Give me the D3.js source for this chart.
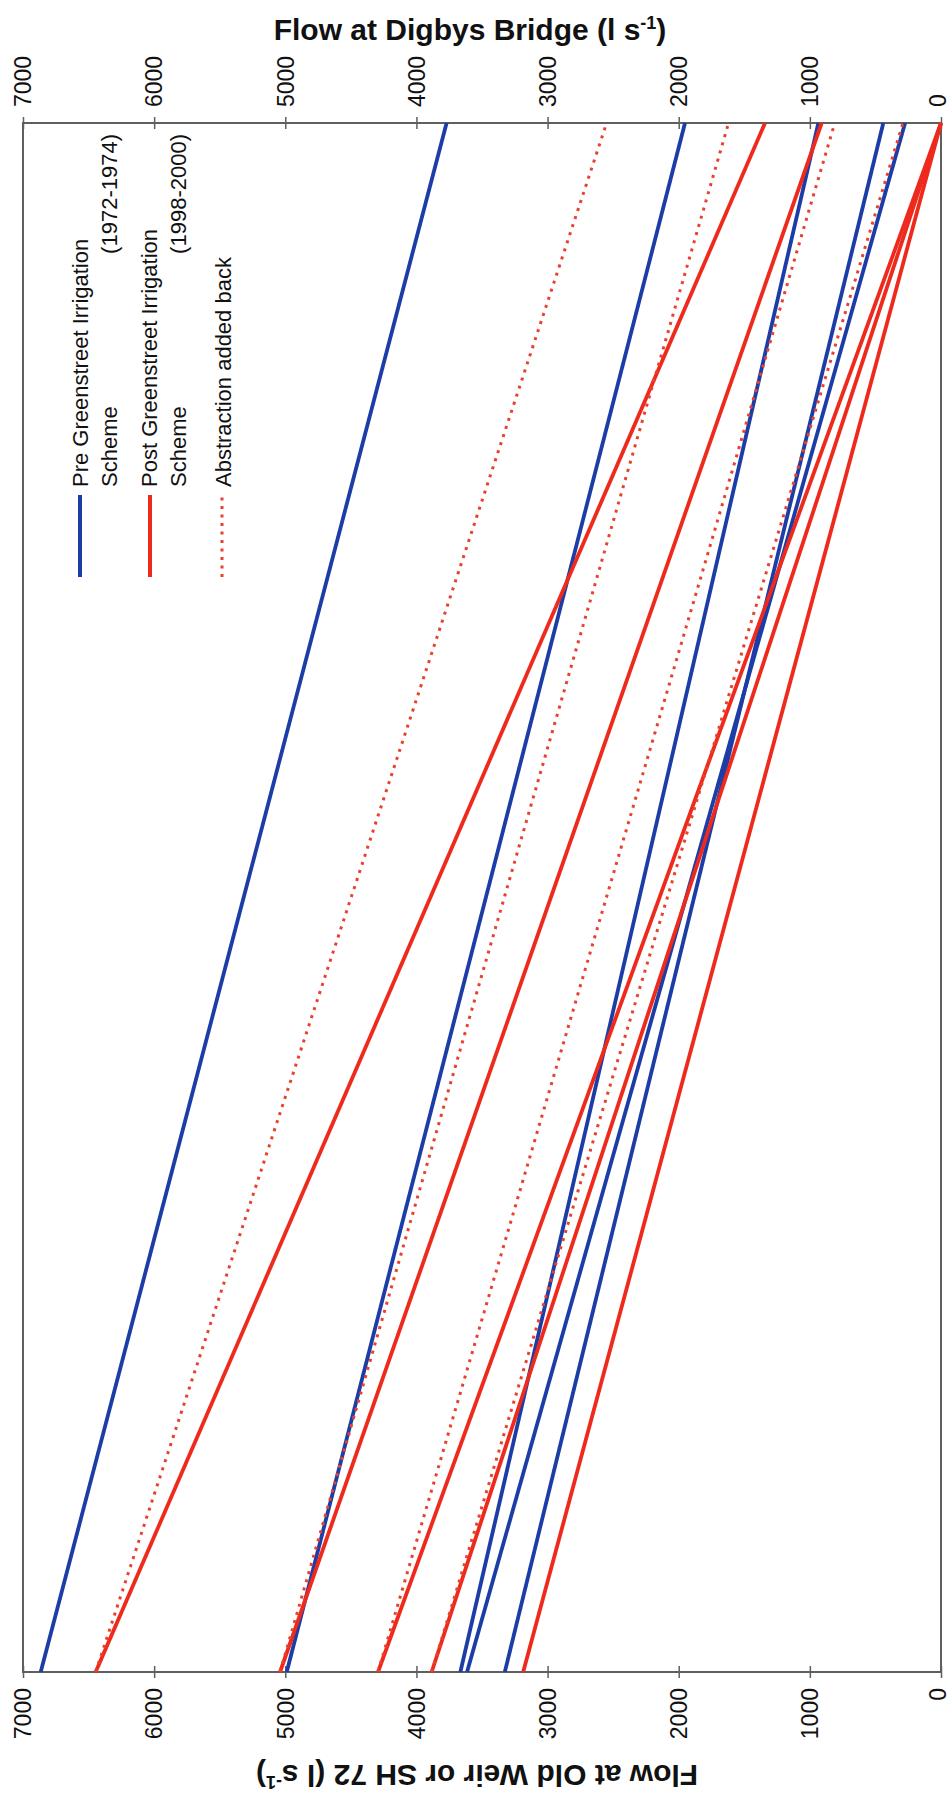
<!DOCTYPE html>
<html><head><meta charset="utf-8">
<script src="https://cdn.jsdelivr.net/npm/d3@7"></script>
<style>html,body{margin:0;padding:0;background:#fff;} svg{display:block;}</style>
</head><body>
<script>
// ---- data (flows in l/s) ----
const tickValues = [0, 1000, 2000, 3000, 4000, 5000, 6000, 7000];
// Pre Greenstreet Irrigation Scheme (1972-1974): Old Weir flow -> Digbys Bridge flow
const preOldWeir = [6865, 4989, 3665, 3614, 3326];
const preDigbys  = [3770, 1952, 935, 274, 440];
// Post Greenstreet Irrigation Scheme (1998-2000)
const postOldWeir = [6446, 5040, 4293, 3884, 3186];
const postDigbys  = [1342, 910, 0, 0, 0];
// Abstraction added back
const addOldWeir = [6446, 5040, 4293, 3884];
const addDigbys  = [2550, 1620, 810, 290];

const leftTitle = "Flow at Old Weir or SH 72 (l s";
const rightTitle = "Flow at Digbys Bridge (l s";
const legendLabels = [
  ["Pre Greenstreet Irrigation", "Scheme", "(1972-1974)"],
  ["Post Greenstreet Irrigation", "Scheme", "(1998-2000)"],
  ["Abstraction added back"]
];

const W = 952, H = 1794;
const BLUE = "#1c3da6", RED = "#ee2a1c", DOT = "#e8412c", AXIS = "#5f5f5f";
const FONT = "'Liberation Sans Narrow','Arial Narrow','Liberation Sans',Arial,sans-serif";

const svg = d3.select("body").append("svg").attr("width", W).attr("height", H);
svg.append("rect").attr("width", W).attr("height", H).attr("fill", "#fff");

// chart laid out in landscape frame (1794 x 952), page shows it turned 90°
const g = svg.append("g").attr("transform", `translate(0,${H}) rotate(-90)`);
const L = 122, R = 1671, T = 23, B = 941;
const y = d3.scaleLinear().domain([0, 7000]).range([B, T]);
const x = d3.scaleLinear().domain([0, 1]).range([L, R]);

// frame
g.append("rect").attr("x", L).attr("y", T).attr("width", R - L).attr("height", B - T)
  .attr("fill", "none").attr("stroke", AXIS).attr("stroke-width", 2);

function styleAxis(sel, side) {
  sel.select(".domain").remove();
  sel.selectAll(".tick line").attr("x1", -6).attr("x2", 6).attr("stroke", AXIS).attr("stroke-width", 1.5);
  sel.selectAll(".tick text").attr("font-family", FONT).attr("font-size", 23).attr("fill", "#111")
    .attr("x", side === "left" ? -16 : 16)
    .attr("dy", d => d === 0 ? "0.2em" : "0.34em");
}
g.append("g").attr("transform", `translate(${L},0)`)
  .call(d3.axisLeft(y).tickValues(tickValues).tickFormat(d3.format("d")).tickSizeOuter(0))
  .call(s => styleAxis(s, "left"));
g.append("g").attr("transform", `translate(${R},0)`)
  .call(d3.axisRight(y).tickValues(tickValues).tickFormat(d3.format("d")).tickSizeOuter(0))
  .call(s => styleAxis(s, "right"));

// lines
function drawSeries(ow, db, color, dashed) {
  g.append("g").selectAll("line").data(ow.map((v, i) => ({ow: v, db: db[i]}))).join("line")
    .attr("x1", x(0)).attr("y1", d => y(d.ow))
    .attr("x2", x(1)).attr("y2", d => y(d.db))
    .attr("stroke", color)
    .attr("stroke-width", dashed ? 3 : 3.8)
    .attr("stroke-dasharray", dashed ? "3 5.5" : null);
}
drawSeries(preOldWeir, preDigbys, BLUE, false);
drawSeries(postOldWeir, postDigbys, RED, false);
drawSeries(addOldWeir, addDigbys, DOT, true);

// titles
function title(txt, tx, ty, rot) {
  const t = g.append("text").attr("transform", `translate(${tx},${ty}) rotate(${rot})`)
    .attr("text-anchor", "middle").attr("font-family", FONT).attr("font-weight", "bold")
    .attr("font-size", 30).attr("fill", "#111");
  t.append("tspan").text(txt);
  t.append("tspan").attr("font-size", 18).attr("dy", -11).text("-1");
  t.append("tspan").attr("dy", 11).text(")");
}
title(rightTitle, 1754, 470, 90);
title(leftTitle, 29, 477, -90);

// legend
const lg = g.append("g").attr("font-family", FONT).attr("font-size", 22).attr("fill", "#111");
const sampleY = [80, 150, 222];
const colors = [BLUE, RED, DOT];
const line1Y = [88, 157, 231], line2Y = [117, 186];
legendLabels.forEach((lab, i) => {
  lg.append("line").attr("x1", 1217).attr("x2", 1299).attr("y1", sampleY[i]).attr("y2", sampleY[i])
    .attr("stroke", colors[i]).attr("stroke-width", i === 2 ? 3 : 4)
    .attr("stroke-dasharray", i === 2 ? "3 5.5" : null);
  lg.append("text").attr("x", 1307).attr("y", line1Y[i]).text(lab[0]);
  if (lab.length > 1) {
    lg.append("text").attr("x", 1307).attr("y", line2Y[i]).text(lab[1]);
    lg.append("text").attr("x", 1660).attr("y", line2Y[i]).attr("text-anchor", "end").text(lab[2]);
  }
});
</script>
</body></html>
